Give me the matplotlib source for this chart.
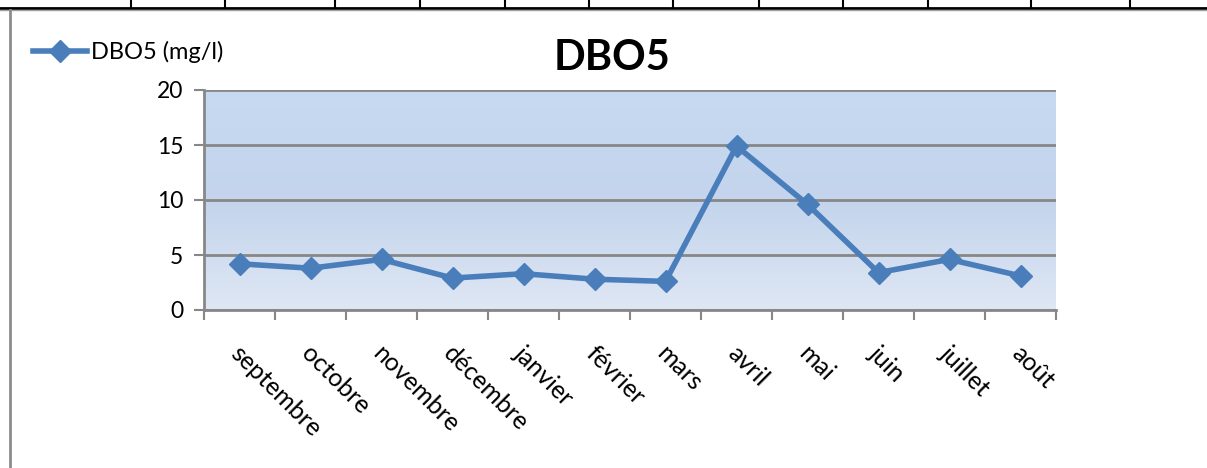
import matplotlib.pyplot as plt
import numpy as np
from matplotlib.colors import LinearSegmentedColormap
from matplotlib.transforms import ScaledTranslation
from matplotlib.lines import Line2D

# Data
months = ['septembre', 'octobre', 'novembre', 'décembre', 'janvier', 'février',
          'mars', 'avril', 'mai', 'juin', 'juillet', 'août']
dbo5 = [4.2, 3.8, 4.6, 2.9, 3.3, 2.8, 2.6, 14.9, 9.6, 3.4, 4.6, 3.1]
series_name = 'DBO5 (mg/l)'
title = 'DBO5'

plt.rcParams['font.family'] = ['Lato', 'DejaVu Sans']
blue = '#4A7EBB'
grey = '#878787'

fig = plt.figure(figsize=(12.07, 4.68), dpi=100)
W, H = 1207, 468
ax = fig.add_axes([204 / W, 1 - 310 / H, 852 / W, 220 / H])

x = np.arange(len(months))

# gradient plot-area fill
cmap = LinearSegmentedColormap.from_list('bg', [(0, '#DFE7F4'), (0.5, '#C3D4EC'), (1, '#C7DAF1')])
grad = np.linspace(0, 1, 256).reshape(-1, 1)
ax.imshow(grad, cmap=cmap, aspect='auto', origin='lower',
          extent=[-0.5, len(months) - 0.5, 0, 20], zorder=0)

ax.plot(x, dbo5, color=blue, lw=4, marker='D', ms=11, mec=blue, mfc=blue,
        zorder=3, solid_joinstyle='round')

ax.set_xlim(-0.5, len(months) - 0.5)
ax.set_ylim(0, 20)
ax.set_yticks([0, 5, 10, 15, 20])
ax.yaxis.grid(True, color=grey, lw=2)
for gl in ax.get_ygridlines():
    gl.set_zorder(1)

# ticks between categories, labels at centres
ax.set_xticks(np.arange(len(months) + 1) - 0.5)
ax.set_xticklabels([])
ax.set_xticks(x, minor=True)
ax.set_xticklabels(months, minor=True, rotation=-45, ha='left', va='center',
                   rotation_mode='anchor', fontsize=18)
ax.tick_params(axis='x', which='minor', length=0, pad=0)
ax.tick_params(axis='both', which='major', length=7, width=1.5, color=grey,
               direction='out', labelsize=16.5)
ax.tick_params(axis='y', pad=8)
off = ScaledTranslation(-5 / 100, -40 / 100, fig.dpi_scale_trans)
for lab in ax.get_xticklabels(minor=True):
    lab.set_transform(lab.get_transform() + off)

for s in ['top', 'right']:
    ax.spines[s].set_visible(False)
for s in ['left', 'bottom']:
    ax.spines[s].set_color(grey)
    ax.spines[s].set_linewidth(2)

fig.text(612 / W, 1 - 58 / H, title, fontsize=30, fontweight='bold',
         ha='center', va='center')

# legend
handle = Line2D([], [], color=blue, lw=4, marker='D', ms=11, mfc=blue, mec=blue)
fig.legend([handle], [series_name], loc='center left',
           bbox_to_anchor=(33 / W, 1 - 52 / H), frameon=False, fontsize=17,
           handlelength=2.3, handletextpad=0.15, borderaxespad=0, borderpad=0)

# surrounding sheet borders
fig.add_artist(Line2D([0, 1], [1 - 7.5 / H] * 2, color='black', lw=2))
fig.add_artist(Line2D([0, 1], [1 - 10 / H] * 2, color='#A0A0A0', lw=1))
for vx in [131, 225, 335, 420, 505, 589, 673, 759, 843, 928, 1031, 1130]:
    fig.add_artist(Line2D([vx / W] * 2, [1 - 7.5 / H, 1], color='black', lw=1.5))
fig.add_artist(Line2D([9.5 / W] * 2, [0, 1 - 10 / H], color='#8C8C8C', lw=2))

fig.savefig('out.png', dpi=100)
